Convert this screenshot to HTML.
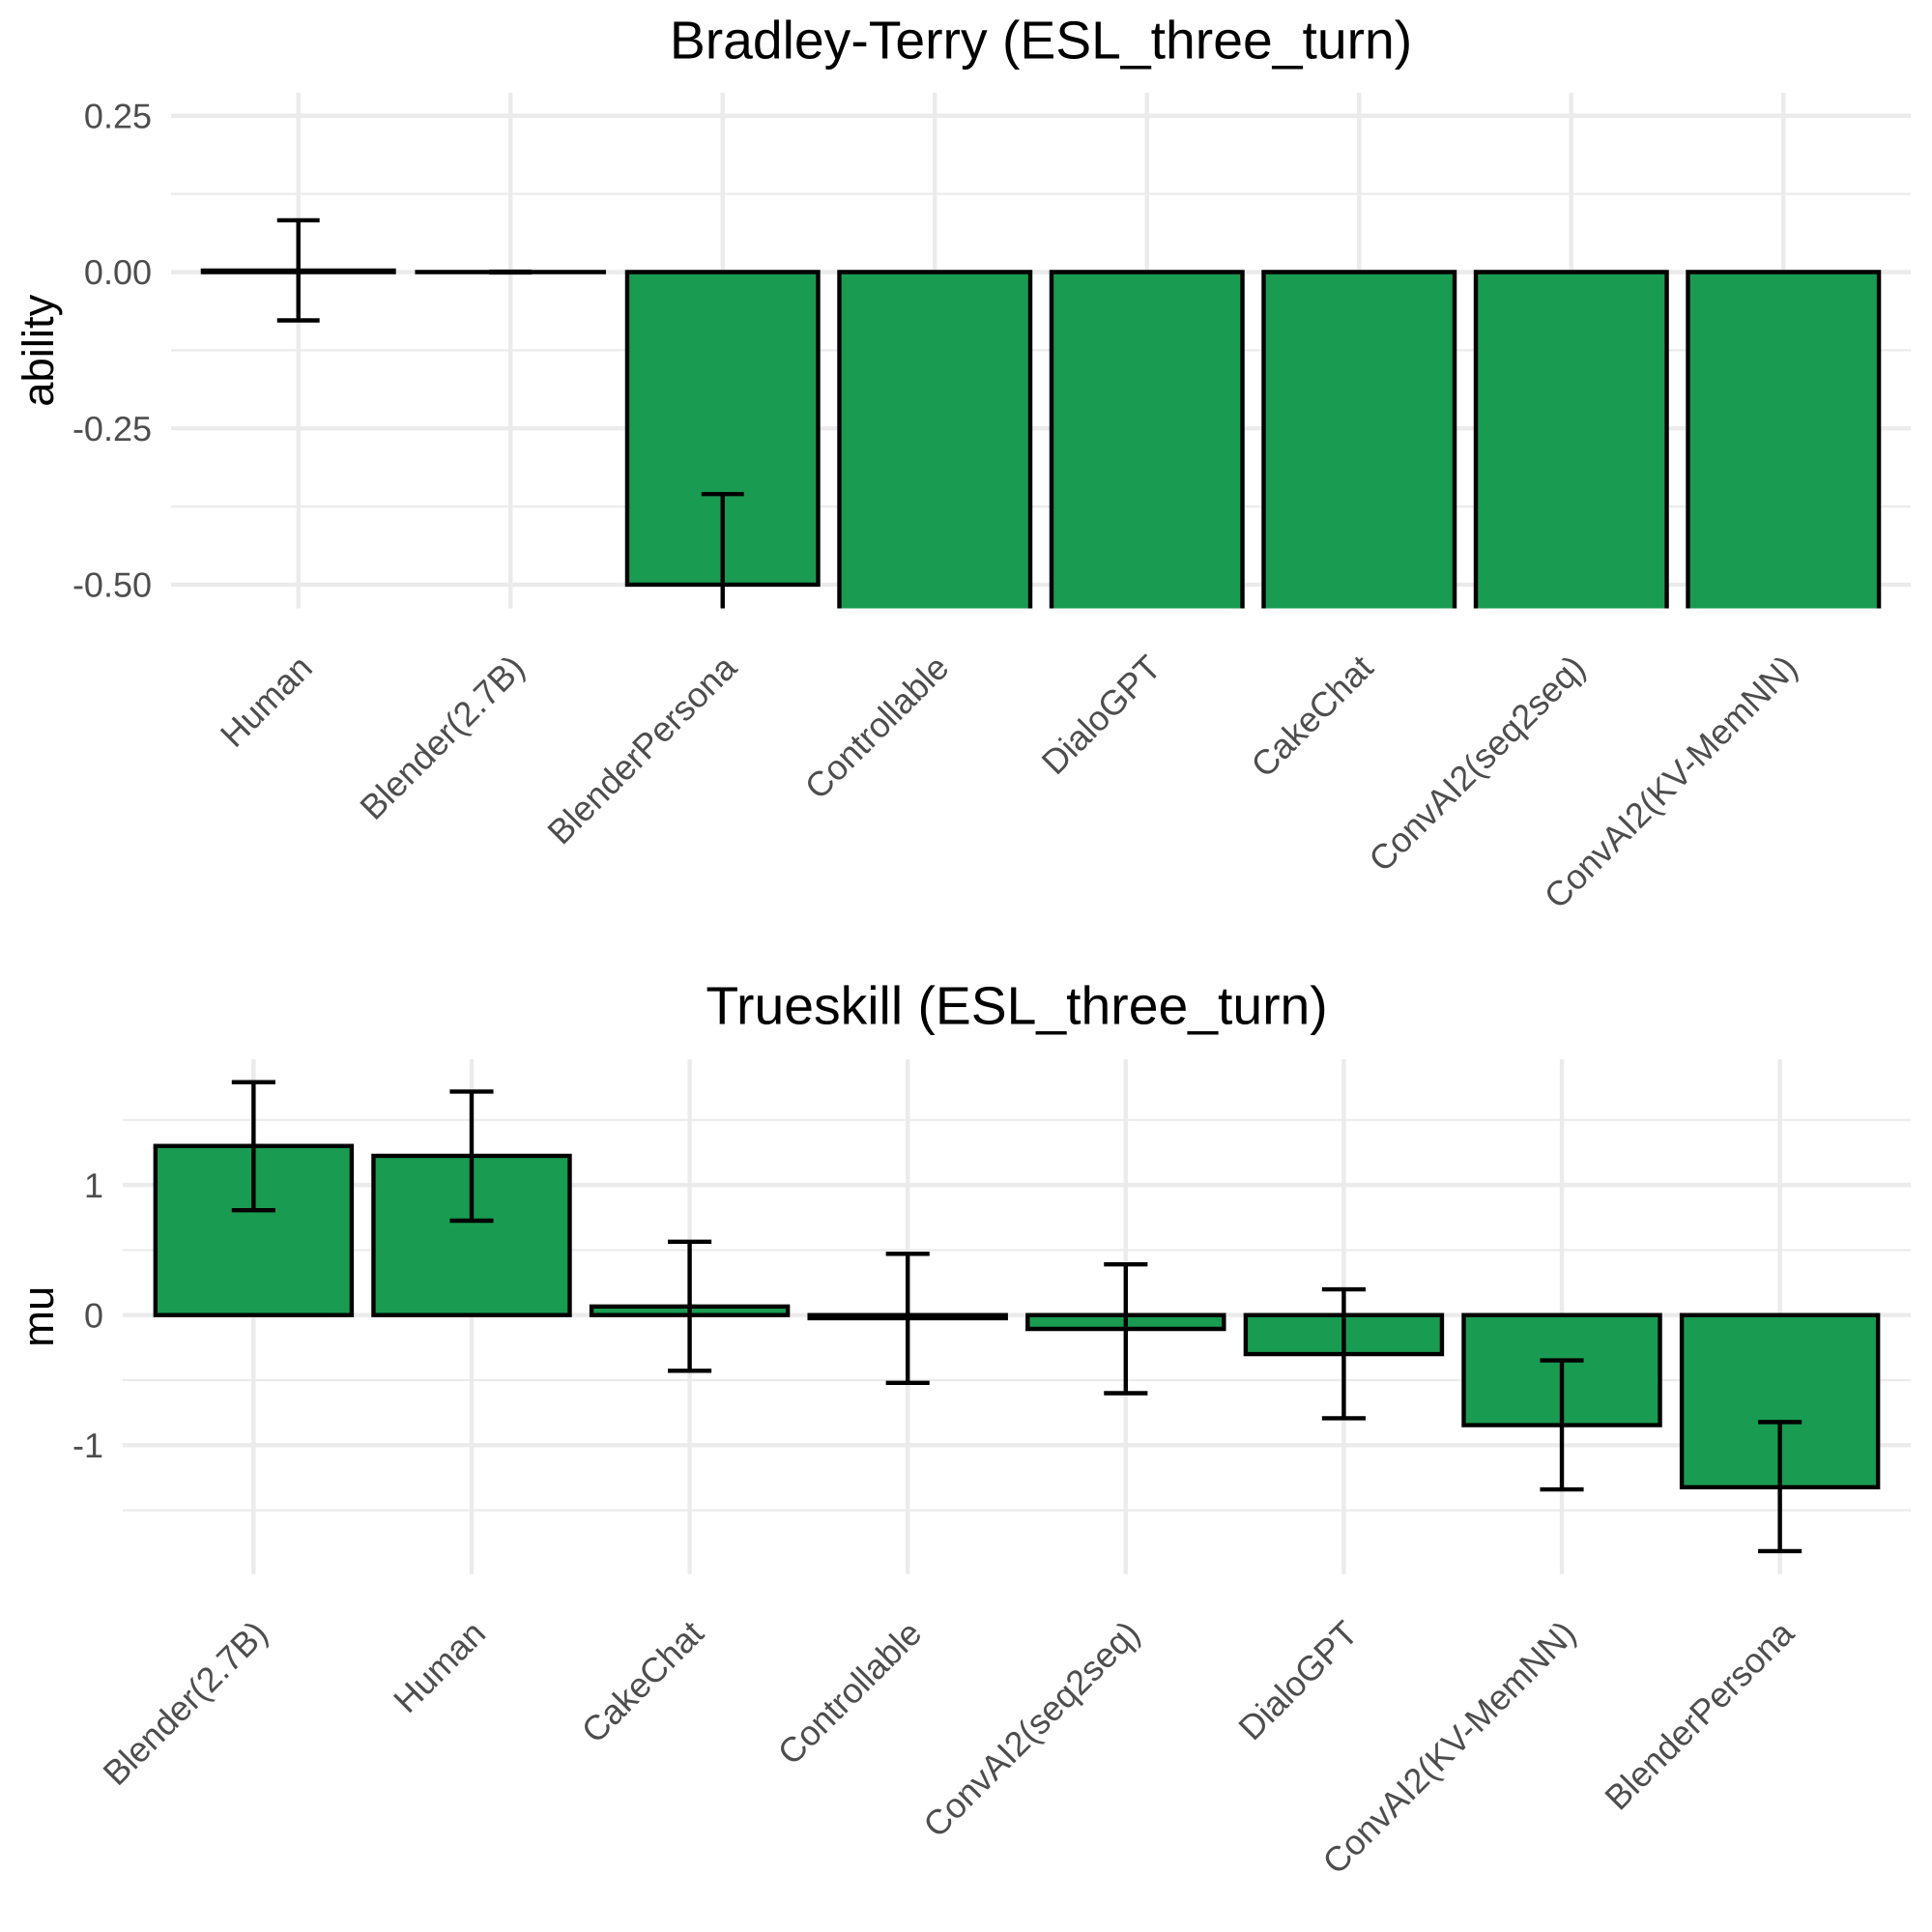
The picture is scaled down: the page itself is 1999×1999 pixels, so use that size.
<!DOCTYPE html>
<html lang="en">
<head>
<meta charset="utf-8">
<title>Bradley-Terry and Trueskill (ESL_three_turn)</title>
<style>
html,body{margin:0;padding:0;background:#fff;}
svg{display:block;}
text{font-family:"Liberation Sans",Arial,sans-serif;text-rendering:geometricPrecision;}
.title{font-size:55.3px;fill:#000;text-anchor:middle;}
.ylab{font-size:45.4px;fill:#000;text-anchor:middle;}
.tick{font-size:36px;fill:#4d4d4d;}
</style>
</head>
<body>
<svg id="chart" xmlns="http://www.w3.org/2000/svg" width="1999" height="1999" viewBox="0 0 1999 1999">
  <rect x="0" y="0" width="1999" height="1999" fill="#ffffff"/>
  <defs>
    <clipPath id="clip-top"><rect x="177" y="96" width="1800" height="533.5"/></clipPath>
    <clipPath id="clip-bottom"><rect x="127" y="1096" width="1850" height="532.6"/></clipPath>
  </defs>
  <text class="title" x="1077" y="60.3">Bradley-Terry (ESL_three_turn)</text>
  <text class="ylab" transform="translate(55,362.7) rotate(-90)">ability</text>
  <g id="panel-top"></g>
  <text class="title" x="1052" y="1059.4">Trueskill (ESL_three_turn)</text>
  <text class="ylab" transform="translate(55,1362.3) rotate(-90)">mu</text>
  <g id="panel-bottom"></g>
</svg>
<script>
// Bradley-Terry data
const btCategories = ["Human","Blender(2.7B)","BlenderPersona","Controllable","DialoGPT","CakeChat","ConvAI2(seq2seq)","ConvAI2(KV-MemNN)"];
const btValues = [0.0023,0,-0.5,-1.0,-1.0,-1.0,-1.0,-1.0];
const btLower = [-0.0773,-0.0006,-0.645,-1.15,-1.15,-1.15,-1.15,-1.15];
const btUpper = [0.0828,0.0006,-0.355,-0.85,-0.85,-0.85,-0.85,-0.85];
const btMajorTicks = [0.25,0,-0.25,-0.5];
const btMinorTicks = [0.125,-0.125,-0.375];
const btTickLabels = ["0.25","0.00","-0.25","-0.50"];

// Trueskill data
const tsCategories = ["Blender(2.7B)","Human","CakeChat","Controllable","ConvAI2(seq2seq)","DialoGPT","ConvAI2(KV-MemNN)","BlenderPersona"];
const tsValues = [1.30,1.224,0.066,-0.024,-0.106,-0.30,-0.846,-1.323];
const tsLower = [0.806,0.726,-0.428,-0.521,-0.60,-0.793,-1.34,-1.814];
const tsUpper = [1.791,1.718,0.564,0.471,0.39,0.198,-0.348,-0.822];
const tsMajorTicks = [1,0,-1];
const tsMinorTicks = [1.5,0.5,-0.5,-1.5];
const tsTickLabels = ["1","0","-1"];

const SVGNS = "http://www.w3.org/2000/svg";
function mk(parent, tag, attrs) {
  const el = document.createElementNS(SVGNS, tag);
  for (const k in attrs) el.setAttribute(k, attrs[k]);
  parent.appendChild(el);
  return el;
}

function drawPanel(cfg) {
  const g = document.getElementById(cfg.gid);
  const n = cfg.categories.length;
  const step = (cfg.right - cfg.left) / (n - 1 + 1.2);
  const xScale = i => cfg.left + (0.6 + i) * step;
  const yScale = v => cfg.bottom - (v - cfg.domain[0]) / (cfg.domain[1] - cfg.domain[0]) * (cfg.bottom - cfg.top);
  const barHalf = 0.45 * step;
  const capHalf = 0.1 * step;

  cfg.minor.forEach(v => {
    const el = mk(g, "line", {x1: cfg.left, x2: cfg.right, y1: yScale(v), y2: yScale(v), stroke: "#ebebeb", "stroke-width": 2.2});
    
    
  });
  cfg.major.forEach(v => {
    const el = mk(g, "line", {x1: cfg.left, x2: cfg.right, y1: yScale(v), y2: yScale(v), stroke: "#ebebeb", "stroke-width": 4.4});
    
    
  });
  cfg.categories.forEach((c, i) => {
    const el = mk(g, "line", {x1: xScale(i), x2: xScale(i), y1: cfg.top, y2: cfg.bottom, stroke: "#ebebeb", "stroke-width": 4.4});
    
    
  });

  const clip = mk(g, "g", {"clip-path": "url(#" + cfg.clip + ")"});
  
  

  cfg.values.forEach((v, i) => {
    const x0 = xScale(i) - barHalf, x1 = xScale(i) + barHalf;
    const y0 = yScale(0), y1 = yScale(v);
    const d = v === 0
      ? "M" + x0 + " " + y0 + "L" + x1 + " " + y0
      : "M" + x0 + " " + y0 + "L" + x1 + " " + y0 + "L" + x1 + " " + y1 + "L" + x0 + " " + y1 + "Z";
    const el = mk(clip, "path", {d: d, fill: "#199b51", stroke: "#000", "stroke-width": 4.4, "stroke-linejoin": "miter"});
    
    
  });

  cfg.values.forEach((v, i) => {
    const x = xScale(i);
    const lo = yScale(cfg.lower[i]), hi = yScale(cfg.upper[i]);
    const d = "M" + (x - capHalf) + " " + hi + "H" + (x + capHalf) +
              "M" + x + " " + hi + "V" + lo +
              "M" + (x - capHalf) + " " + lo + "H" + (x + capHalf);
    const el = mk(clip, "path", {d: d, fill: "none", stroke: "#000", "stroke-width": 4.4});
    
    
  });

  cfg.major.forEach((v, i) => {
    const el = mk(g, "text", {x: cfg.left - 20, y: yScale(v) + 12.7, "text-anchor": "end", "class": "tick"});
    
    
    el.textContent = cfg.tickLabels[i];
  });

  cfg.categories.forEach((c, i) => {
    const lx = xScale(i) + 16.5, ly = cfg.bottom + 63.7;
    const el = mk(g, "text", {"text-anchor": "end", "class": "tick", transform: "translate(" + lx + "," + ly + ") rotate(-45)"});
    
    
    el.textContent = c;
  });
}

drawPanel({
  gid: "panel-top", clip: "clip-top",
  left: 177, right: 1977, top: 96, bottom: 629.5,
  domain: [-0.5379, 0.2867],
  categories: btCategories, values: btValues, lower: btLower, upper: btUpper,
  major: btMajorTicks, minor: btMinorTicks, tickLabels: btTickLabels
});
drawPanel({
  gid: "panel-bottom", clip: "clip-bottom",
  left: 127, right: 1977, top: 1096, bottom: 1628.6,
  domain: [-1.990, 1.9666],
  categories: tsCategories, values: tsValues, lower: tsLower, upper: tsUpper,
  major: tsMajorTicks, minor: tsMinorTicks, tickLabels: tsTickLabels
});
</script>
</body>
</html>
